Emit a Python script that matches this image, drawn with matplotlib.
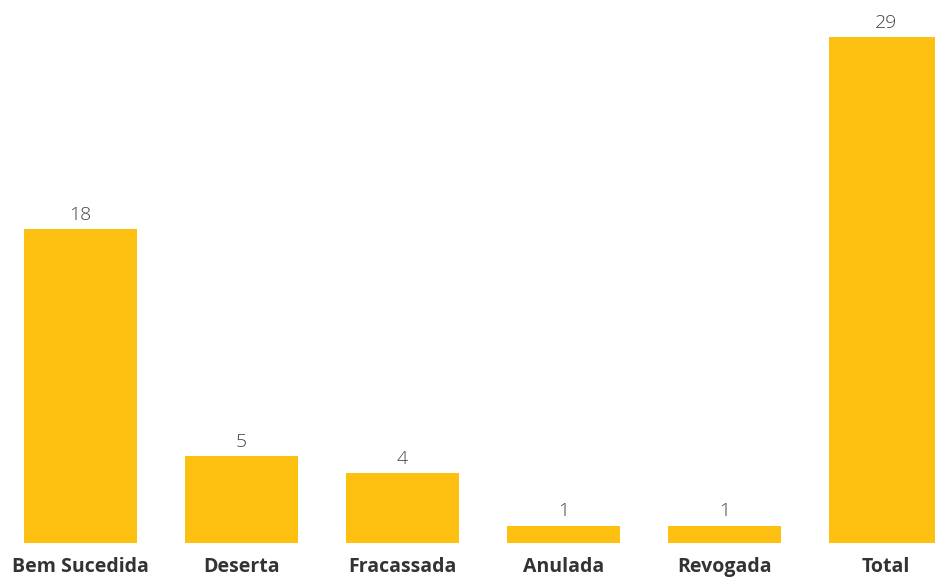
import matplotlib
matplotlib.use('Agg')
import matplotlib.pyplot as plt

# categorias e valores
categorias = ['Bem Sucedida', 'Deserta', 'Fracassada', 'Anulada', 'Revogada', 'Total']
valores = [18, 5, 4, 1, 1, 29]

cor_barra = '#FDC010'

fig = plt.figure(figsize=(9.35, 5.78), dpi=100)
ax = fig.add_axes([0, 35 / 578, 1, 543 / 578])

x = list(range(len(categorias)))
ax.bar(x, valores, width=0.7, color=cor_barra)

for xi, v in zip(x, valores):
    ax.text(xi, v + 0.3, str(v), ha='center', va='bottom',
            fontsize=14, color='#444444', family='Open Sans', fontweight='light')

ax.set_xlim(-0.5, (935 - 80.5) / 161)
ax.set_ylim(0, 29 * 543 / 506)
ax.set_xticks(x)
ax.set_xticklabels(categorias, fontsize=14, fontweight='bold', color='#333333', family='Open Sans')
ax.tick_params(axis='x', length=0, pad=10)
ax.set_yticks([])
for s in ax.spines.values():
    s.set_visible(False)

plt.savefig('out.png', dpi=100)
